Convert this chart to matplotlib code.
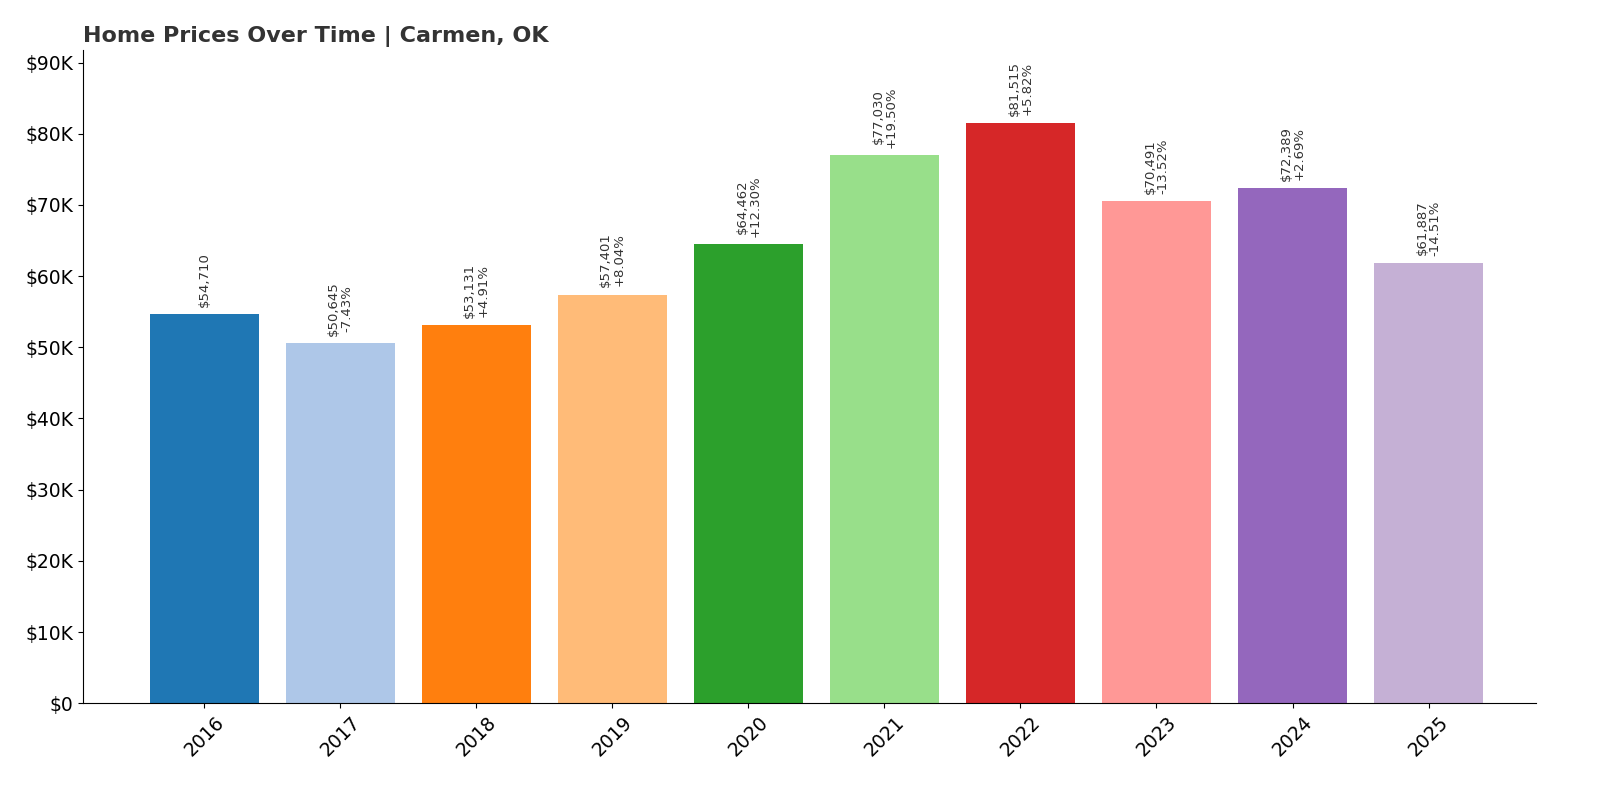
import matplotlib
matplotlib.use("Agg")
import matplotlib.pyplot as plt
from matplotlib.ticker import FuncFormatter

years = ["2016", "2017", "2018", "2019", "2020", "2021", "2022", "2023", "2024", "2025"]
prices = [54710, 50645, 53131, 57401, 64462, 77030, 81515, 70491, 72389, 61887]
changes = [None, "-7.43%", "+4.91%", "+8.04%", "+12.30%", "+19.50%", "+5.82%", "-13.52%", "+2.69%", "-14.51%"]
colors = ["#1f77b4", "#aec7e8", "#ff7f0e", "#ffbb78", "#2ca02c",
          "#98df8a", "#d62728", "#ff9896", "#9467bd", "#c5b0d5"]

fig, ax = plt.subplots(figsize=(16, 8), dpi=100)
fig.subplots_adjust(left=0.052, right=0.96, top=0.937, bottom=0.121)

x = range(len(years))
ax.bar(x, prices, width=0.8, color=colors)

# value labels above bars
for i, (p, c) in enumerate(zip(prices, changes)):
    label = "${:,}".format(p) if c is None else "${:,}\n{}".format(p, c)
    ax.text(i, p + 1000, label, rotation=90, ha="center", va="bottom",
            fontsize=9.5, color="#333333", linespacing=1.0)

ax.set_ylim(0, 81515 * 1.125)
ax.set_xlim(-0.89, 9.79)
ax.set_yticks(range(0, 90001, 10000))
ax.yaxis.set_major_formatter(FuncFormatter(lambda v, _: "$0" if v == 0 else "${:.0f}K".format(v / 1000)))
ax.set_xticks(list(x))
ax.set_xticklabels(years, rotation=45, fontsize=13.5)
ax.tick_params(axis="y", labelsize=13.5)

ax.spines["top"].set_visible(False)
ax.spines["right"].set_visible(False)

ax.set_title("Home Prices Over Time | Carmen, OK", loc="left", fontsize=16,
             fontweight="bold", color="#333333")

fig.savefig("out.png")
